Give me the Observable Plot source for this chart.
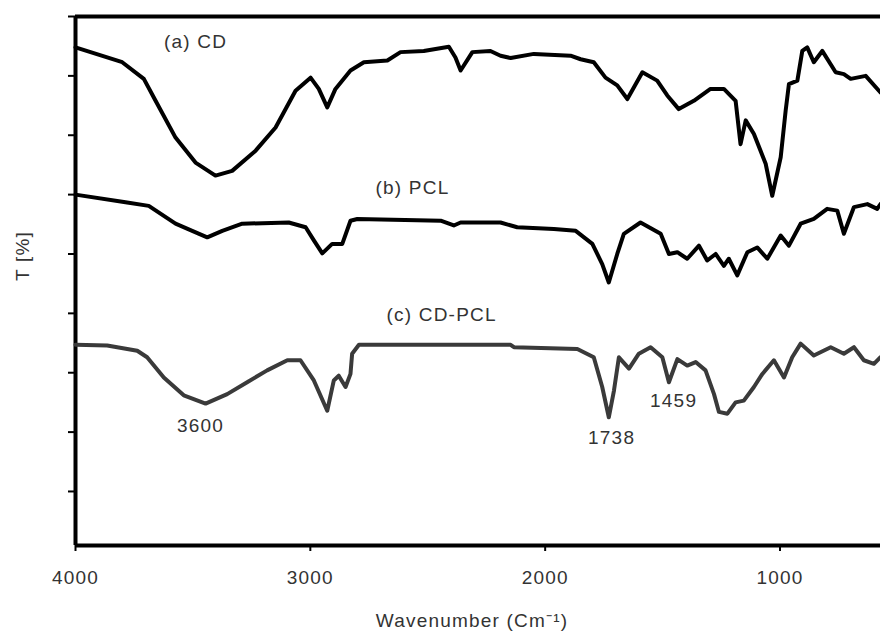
<!DOCTYPE html>
<html>
<head>
<meta charset="utf-8">
<script src="https://cdn.jsdelivr.net/npm/d3@7"></script>
<script src="https://cdn.jsdelivr.net/npm/@observablehq/plot@0.6"></script>
<style>
  html, body { margin: 0; padding: 0; background: #fff; }
  #chart svg { display: block; }
  #chart svg text { letter-spacing: 1.2px; }
</style>
</head>
<body>
<div id="chart"></div>
<script>
// Wavenumber (cm-1) and transmittance (arbitrary, offset)
const cdWn = [4000,3801,3709,3659,3574,3489,3404,3333,3233,3148,3063,2999,2964,2928,2893,2829,2772,2672,2616,2517,2410,2382,2360,2310,2233,2190,2147,2048,1892,1849,1793,1743,1693,1650,1586,1523,1480,1431,1367,1296,1239,1189,1168,1146,1111,1061,1033,997,976,962,926,905,884,856,820,763,728,699,635,572];
const cdT  = [74.8,72.3,69.5,65.8,59.6,55.4,53.2,54.0,57.4,61.3,67.5,69.7,67.8,64.7,67.8,70.9,72.3,72.6,74.0,74.2,74.9,73.1,70.9,74.0,74.2,73.4,73.0,73.7,73.4,72.8,72.3,69.7,68.4,66.1,70.6,69.2,66.7,64.4,65.8,67.8,67.8,65.8,58.5,62.5,60.2,55.2,49.8,56.3,64.1,68.6,69.2,74.2,74.8,72.3,74.2,70.6,70.3,69.5,70.0,67.2];

const pclWn = [4000,3787,3688,3574,3503,3439,3375,3290,3092,3020,2985,2949,2907,2864,2829,2800,2445,2389,2360,2190,2119,1963,1870,1799,1757,1729,1693,1665,1594,1508,1473,1437,1395,1345,1310,1274,1239,1218,1182,1139,1097,1054,997,962,912,856,799,756,728,685,628,586,572];
const pclT  = [50.0,48.7,48.1,45.1,43.9,42.8,43.9,45.1,45.3,44.5,42.3,40.1,41.7,41.7,45.6,45.9,45.6,44.8,45.3,45.3,44.5,44.2,43.9,41.7,38.3,35.2,40.0,43.4,45.3,43.4,40.0,40.3,39.2,41.4,38.9,40.0,38.0,39.2,36.4,40.3,41.1,39.2,43.1,41.4,45.1,45.9,47.6,47.3,43.4,47.9,48.4,47.6,48.4];

const cdpclWn = [4000,3865,3737,3695,3624,3539,3446,3354,3269,3184,3098,3042,2985,2928,2900,2879,2850,2829,2822,2793,2147,2133,1863,1793,1757,1729,1707,1686,1643,1601,1551,1501,1473,1437,1395,1359,1317,1281,1260,1224,1189,1154,1111,1075,1026,983,948,912,856,784,728,685,643,600,572];
const cdpclT  = [24.7,24.6,23.7,22.6,19.2,16.2,14.8,16.4,18.4,20.4,22.1,22.1,18.7,13.6,18.7,19.5,17.6,19.8,23.2,24.7,24.7,24.3,24.0,22.6,17.6,12.5,17.0,22.6,20.7,23.2,24.3,22.6,18.4,22.3,21.2,21.8,20.4,16.4,13.4,13.1,15.0,15.3,17.6,19.8,22.1,19.2,22.6,24.9,22.9,24.3,23.2,24.3,22.1,21.5,22.6];

const labelText = ["(a) CD", "(b) PCL", "(c) CD-PCL", "3600", "1738", "1459"];
const labelWn   = [3489, 2565, 2441, 3468, 1717, 1453];
const labelT    = [75.8, 51.2, 29.8, 11.1, 9.1, 15.3];

const xTicks = [4000, 3000, 2000, 1000];
const yTicks = [0, 10, 20, 30, 40, 50, 60, 70, 80];
const xDomain = [4000, 572];
const yDomain = [-9.1, 80];

const toRows = (wn, t) => wn.map((w, i) => ({wn: w, t: t[i]}));
const cdRows = toRows(cdWn, cdT);
const pclRows = toRows(pclWn, pclT);
const cdpclRows = toRows(cdpclWn, cdpclT);
const labels = labelText.map((s, i) => ({s, wn: labelWn[i], t: labelT[i]}));

const FS = 19;
const chart = Plot.plot({
  width: 880,
  height: 632,
  marginLeft: 75,
  marginRight: 0,
  marginTop: 16,
  marginBottom: 87,
  style: {fontFamily: "'Liberation Sans', Arial, sans-serif", fontSize: FS + "px", color: "#333", background: "#fff"},
  x: {domain: xDomain, range: [75, 880]},
  y: {domain: yDomain},
  marks: [
    Plot.axisX({ticks: xTicks, tickSize: 6, tickPadding: 19, tickFormat: d => String(d), stroke: "#000", strokeWidth: 2, fontSize: FS, fill: "#333", label: null}),
    Plot.axisY({ticks: yTicks, tickSize: 7, tickFormat: () => "", stroke: "#000", strokeWidth: 2, label: null}),
    Plot.text(["Wavenumber (Cm⁻¹)"], {frameAnchor: "bottom", dx: -6, dy: 81, fontSize: FS, fill: "#333"}),
    Plot.text(["T [%]"], {frameAnchor: "left", dx: -53, rotate: -90, fontSize: FS, fill: "#333"}),
    Plot.ruleY([yDomain[0], yDomain[1]], {stroke: "#000", strokeWidth: 4}),
    Plot.ruleX([xDomain[0]], {stroke: "#000", strokeWidth: 4}),
    Plot.line(cdRows, {x: "wn", y: "t", stroke: "#000", strokeWidth: 4, strokeLinejoin: "round"}),
    Plot.line(pclRows, {x: "wn", y: "t", stroke: "#000", strokeWidth: 4, strokeLinejoin: "round"}),
    Plot.line(cdpclRows, {x: "wn", y: "t", stroke: "#3a3a3a", strokeWidth: 4, strokeLinejoin: "round"}),
    Plot.text(labels, {x: "wn", y: "t", text: "s", fontSize: FS, fill: "#333"})
  ]
});
document.getElementById("chart").appendChild(chart);
</script>
</body>
</html>
